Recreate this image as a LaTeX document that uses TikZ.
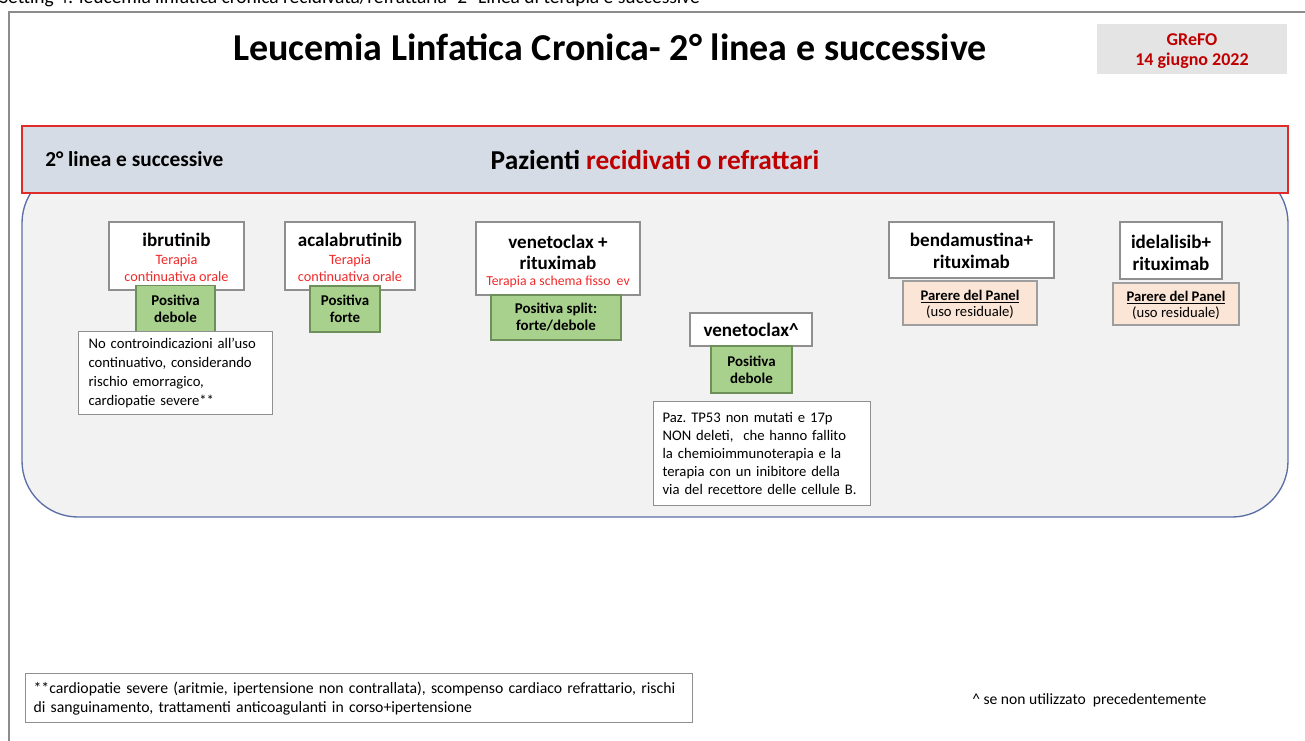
\documentclass[tikz,border=0pt]{standalone}
\usepackage{fontspec}
\setmainfont{Carlito}
\definecolor{frame}{HTML}{8C8C8C}
\definecolor{datebox}{HTML}{E4E4E4}
\definecolor{darkred}{HTML}{C00000}
\definecolor{brightred}{HTML}{F02A2A}
\definecolor{bandfill}{HTML}{D6DCE5}
\definecolor{bandline}{HTML}{E02B2B}
\definecolor{areafill}{HTML}{F2F2F2}
\definecolor{arealine}{HTML}{5B6FA6}
\definecolor{greenfill}{HTML}{A9D18E}
\definecolor{greenline}{HTML}{6F8F5A}
\definecolor{peachfill}{HTML}{FBE5D6}
\definecolor{peachline}{HTML}{9E9E9E}
\definecolor{boxline}{HTML}{8F8F8F}
\newcommand\fsz[2]{\fontsize{#1}{#2}\selectfont}
\begin{document}
\begin{tikzpicture}[x=0.75pt,y=-0.75pt,
  sz/.style 2 args={minimum width=#1*0.75pt, minimum height=#2*0.75pt, inner sep=0pt},
  drugbox/.style={draw=boxline, line width=0.9pt, fill=white},
  greenbox/.style={draw=greenline, line width=0.9pt, fill=greenfill, align=center,
    font=\fsz{11.2}{12.75}\bfseries},
  peachbox/.style={draw=peachline, line width=0.9pt, fill=peachfill},
  peachtext/.style={inner sep=0pt, align=center, font=\fsz{11}{12}},
  notebox/.style={draw=boxline, line width=0.9pt, fill=white, align=left,
    inner ysep=0pt, anchor=north west},
  drug/.style={inner sep=0pt, align=center, font=\fsz{14.3}{16}\bfseries},
  sub/.style={inner sep=0pt, align=center, text=brightred, font=\fsz{10.7}{12.75}}]
\useasboundingbox (0,0) rectangle (1305,740);
\clip (0,0) rectangle (1305,740);

% slide frame and caption line above it
\node[anchor=base west, inner sep=0pt, font=\fsz{14.6}{16}] (caption) at (-1,3)
  {Setting 4: leucemia linfatica cronica recidivata/refrattaria- 2° Linea di terapia e successive};
\draw[frame, line width=0.9pt] (9,760) -- (9,12) -- (1320,12);

% title and date badge
\node[inner sep=0pt, font=\fsz{28.5}{32}\bfseries] (title) at (610,47)
  {Leucemia Linfatica Cronica- 2° linea e successive};
\node[fill=datebox, sz={190}{50}] (grefo) at (1192,49) {};
\node[inner sep=0pt, align=center, text=darkred, font=\fsz{13.5}{15}\bfseries]
  (grefotext) at (1192,51) {GReFO\\14 giugno 2022};

% patient group area
\node[draw=arealine, line width=1pt, fill=areafill, rounded corners=42pt,
  sz={1266}{350}] (area) at (655,342) {};

% header band
\node[draw=bandline, line width=1pt, fill=bandfill, sz={1266}{67}] (band) at (655,159.5) {};
\node[anchor=west, inner sep=0pt, font=\fsz{16}{18}\bfseries] (line2) at (45,159)
  {2° linea e successive};
\node[inner sep=0pt, font=\fsz{20.5}{22}\bfseries] (pazienti) at (655,160)
  {Pazienti \textcolor{darkred}{recidivati o refrattari}};

% ibrutinib
\node[drugbox, sz={135}{68}] (ibr) at (176.5,256) {};
\node[drug] (ibrname) at (176.5,240) {ibrutinib};
\node[sub] (ibrsub) at (176.5,268.5) {Terapia\\continuativa orale};
\node[greenbox, sz={79}{47}] (ibrrec) at (175.5,309) {Positiva\\debole};
\node[notebox, inner xsep=7.5pt, text width=174*0.75pt, minimum height=83*0.75pt,
  font=\fsz{11}{14.25}] (ibrnote) at (78,331)
  {No controindicazioni all’uso\\continuativo, considerando\\rischio emorragico,\\cardiopatie severe**};

% acalabrutinib
\node[drugbox, sz={130}{68}] (acala) at (350,256) {};
\node[drug] (acalaname) at (350,240) {acalabrutinib};
\node[sub] (acalasub) at (350,268.5) {Terapia\\continuativa orale};
\node[greenbox, sz={70}{46}] (acalarec) at (345,309) {Positiva\\forte};

% venetoclax + rituximab
\node[drugbox, sz={164}{73}] (venrit) at (558,258.5) {};
\node[drug, font=\fsz{14.3}{15.75}\bfseries] (venritname) at (558,252) {venetoclax +\\rituximab};
\node[sub, font=\fsz{10.3}{12}] (venritsub) at (558,282) {Terapia a schema fisso\ \ ev};
\node[greenbox, sz={130}{45}] (venritrec) at (556,317.5) {Positiva split:\\forte/debole};

% venetoclax alone
\node[drugbox, sz={122}{33}] (ven) at (751,329.5) {};
\node[drug] (venname) at (751,330) {venetoclax\textasciicircum};
\node[greenbox, sz={81}{47}] (venrec) at (751.5,369.5) {Positiva\\debole};
\node[notebox, inner xsep=6.75pt, text width=199*0.75pt, minimum height=104*0.75pt,
  font=\fsz{11}{13.4}] (vennote) at (653,401)
  {Paz.\ TP53 non mutati e 17p\\NON deleti,\ \ che hanno fallito\\la chemioimmunoterapia e la\\terapia con un inibitore della\\via del recettore delle cellule B.};

% bendamustina + rituximab
\node[drugbox, sz={165}{56}] (benda) at (971.5,250) {};
\node[drug, font=\fsz{14.3}{16.5}\bfseries] (bendaname) at (971.5,251) {bendamustina+\\rituximab};
\node[peachbox, sz={134}{44}] (bendarec) at (970,303) {};
\node[peachtext] (bendarectext) at (970,304.5)
  {\textbf{\underline{Parere del Panel}}\\(uso residuale)};

% idelalisib + rituximab
\node[drugbox, sz={102}{57}] (idela) at (1171,250.5) {};
\node[drug, font=\fsz{14.3}{16.5}\bfseries] (idelaname) at (1171,252.5) {idelalisib+\\rituximab};
\node[peachbox, sz={126}{42}] (idelarec) at (1176,304) {};
\node[peachtext] (idelarectext) at (1176,305.5)
  {\textbf{\underline{Parere del Panel}}\\(uso residuale)};

% footnotes
\node[draw=boxline, line width=0.9pt, fill=white, align=left, anchor=north west,
  inner xsep=6pt, inner ysep=0pt, text width=651*0.75pt, minimum height=49*0.75pt,
  font=\fsz{11.8}{14.25}] (foot) at (25,673)
  {**cardiopatie severe (aritmie, ipertensione non contrallata), scompenso cardiaco refrattario, rischi\\di sanguinamento, trattamenti anticoagulanti in corso+ipertensione};
\node[anchor=west, inner sep=0pt, font=\fsz{11.7}{14}] (caret) at (972,700)
  {\textasciicircum\ se non utilizzato\ \ precedentemente};
\end{tikzpicture}
\end{document}
